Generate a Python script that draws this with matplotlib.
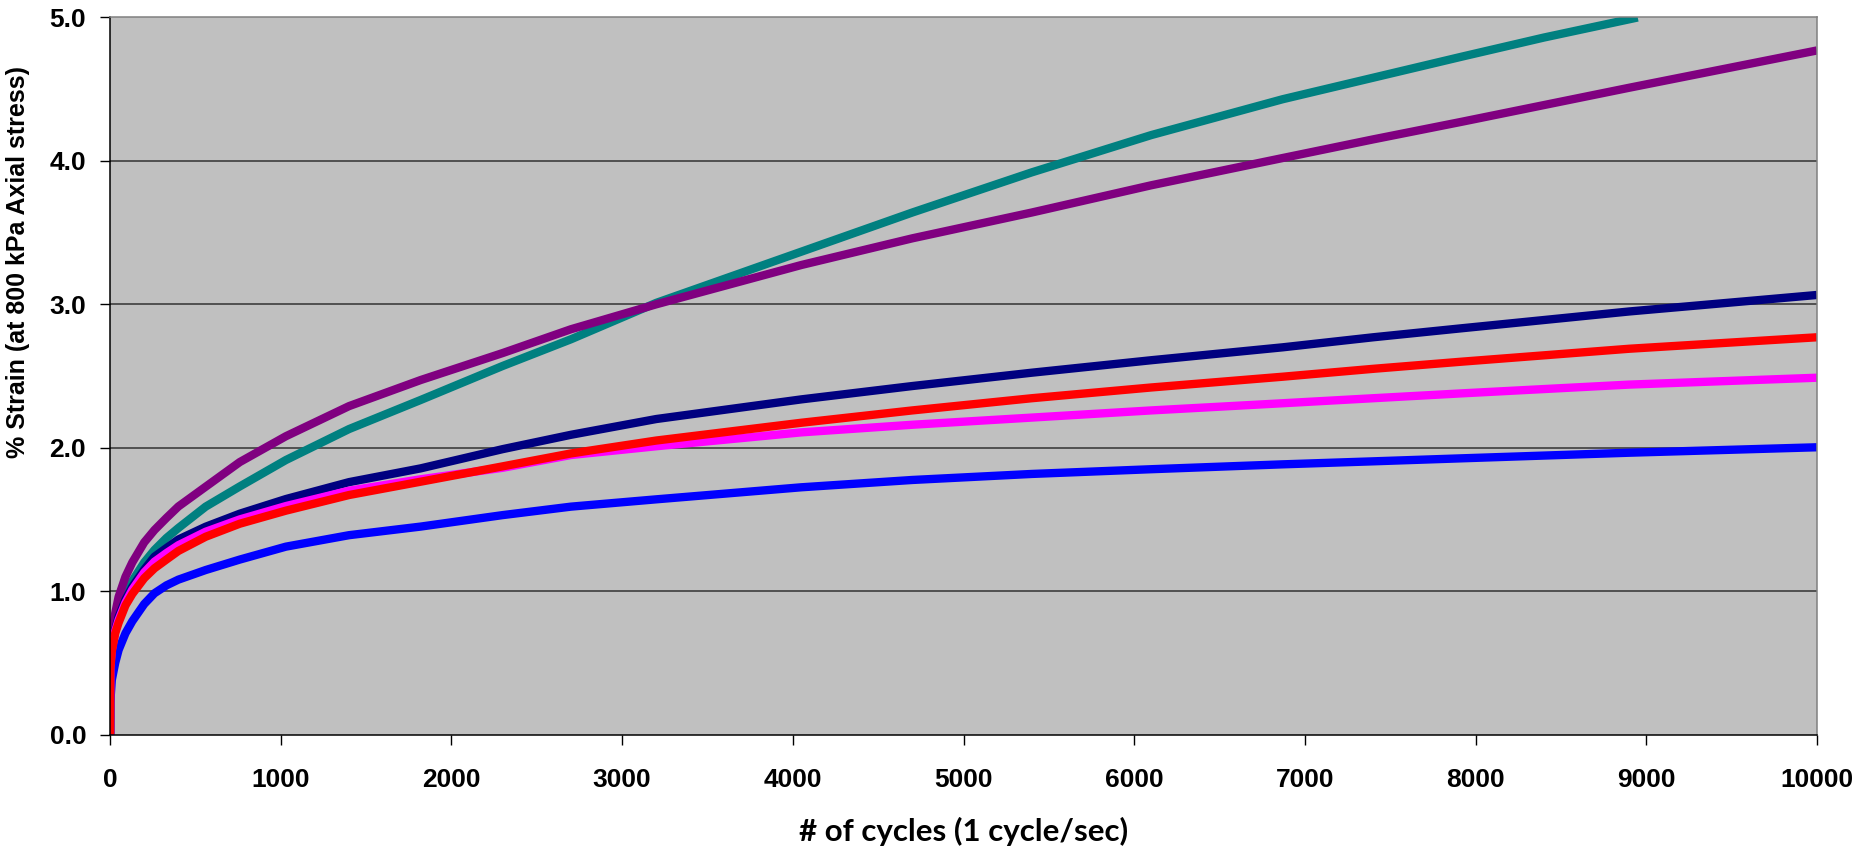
import matplotlib
matplotlib.use('Agg')
import matplotlib.pyplot as plt
from matplotlib import font_manager

cycles = [0, 1, 10, 30, 50, 90, 130, 200, 260, 330, 400, 560, 760, 1030, 1400, 1820,
          2300, 2700, 3200, 4050, 4700, 5400, 6100, 6870, 7400, 7920, 8900, 10000]
cycles_teal = [0, 1, 10, 30, 50, 90, 130, 200, 260, 330, 400, 560, 760, 1030, 1400, 1820,
               2300, 2700, 3200, 4050, 4700, 5400, 6100, 6870, 7400, 7920, 8400, 8950]

strain_teal = [0, 0.50, 0.62, 0.77, 0.86, 0.985, 1.07, 1.20, 1.287, 1.37, 1.44, 1.589,
               1.73, 1.914, 2.13, 2.333, 2.57, 2.756, 3.01, 3.367, 3.64, 3.92, 4.18,
               4.43, 4.58, 4.727, 4.86, 5.0]
strain_purple = [0, 0.59, 0.68, 0.845, 0.96, 1.10, 1.20, 1.34, 1.426, 1.51, 1.59, 1.728,
                 1.90, 2.08, 2.29, 2.472, 2.66, 2.826, 3.00, 3.274, 3.46, 3.64, 3.83,
                 4.02, 4.15, 4.273, 4.51, 4.77]
strain_navy = [0, 0.50, 0.60, 0.73, 0.82, 0.94, 1.03, 1.15, 1.24, 1.30, 1.36, 1.449,
               1.54, 1.642, 1.76, 1.856, 1.99, 2.09, 2.20, 2.337, 2.43, 2.523, 2.61,
               2.70, 2.77, 2.833, 2.95, 3.065]
strain_red = [0, 0.45, 0.58, 0.706, 0.78, 0.90, 0.98, 1.09, 1.159, 1.22, 1.28, 1.379,
              1.47, 1.561, 1.67, 1.763, 1.87, 1.96, 2.05, 2.174, 2.26, 2.345, 2.42,
              2.495, 2.55, 2.60, 2.69, 2.77]
strain_magenta = [0, 0.47, 0.59, 0.72, 0.80, 0.92, 1.01, 1.13, 1.205, 1.265, 1.32, 1.414,
                  1.50, 1.593, 1.70, 1.78, 1.86, 1.949, 2.01, 2.107, 2.16, 2.21, 2.26,
                  2.31, 2.345, 2.379, 2.44, 2.488]
strain_blue = [0, 0.22, 0.38, 0.50, 0.59, 0.706, 0.79, 0.91, 0.985, 1.04, 1.08, 1.147,
               1.22, 1.31, 1.39, 1.45, 1.53, 1.589, 1.64, 1.724, 1.775, 1.817, 1.85,
               1.884, 1.905, 1.926, 1.965, 2.003]

xticks = list(range(0, 10001, 1000))
yticks = [0, 1, 2, 3, 4, 5]

installed = {f.name for f in font_manager.fontManager.ttflist}
narrow = 'Liberation Sans Narrow' if 'Liberation Sans Narrow' in installed else 'Liberation Sans'
ylab_size = 15 if narrow == 'Liberation Sans Narrow' else 18

fig = plt.figure(figsize=(18.66, 8.61), dpi=100)
ax = fig.add_axes([0.0590, 0.1469, 0.9147, 0.8328])
ax.set_facecolor('#C0C0C0')

lw = 6
ax.plot(cycles_teal, strain_teal, color='#008080', lw=lw, solid_capstyle='butt')
ax.plot(cycles, strain_purple, color='#800080', lw=lw, solid_capstyle='butt')
ax.plot(cycles, strain_navy, color='#000080', lw=lw, solid_capstyle='butt')
ax.plot(cycles, strain_blue, color='#0000FF', lw=lw, solid_capstyle='butt')
ax.plot(cycles, strain_magenta, color='#FF00FF', lw=lw, solid_capstyle='butt')
ax.plot(cycles, strain_red, color='#FF0000', lw=lw, solid_capstyle='butt')

ax.set_xlim(0, 10000)
ax.set_ylim(0, 5)
ax.set_xticks(xticks)
ax.set_yticks(yticks)
ax.set_yticklabels([f'{v:.1f}' for v in yticks])

for y in yticks[1:-1]:
    ax.axhline(y, color='#333333', lw=1.1, zorder=1)

for s in ('left', 'bottom'):
    ax.spines[s].set_color('black')
    ax.spines[s].set_linewidth(1.1)
for s in ('top', 'right'):
    ax.spines[s].set_color('#808080')
    ax.spines[s].set_linewidth(1.1)

ax.tick_params(axis='both', direction='out', length=7.2, width=1.0, color='black')
ax.tick_params(axis='x', pad=17)
ax.tick_params(axis='y', pad=10)
for lab in ax.get_xticklabels() + ax.get_yticklabels():
    lab.set_fontfamily('Liberation Sans')
    lab.set_fontweight('bold')
    lab.set_fontsize(19)

ax.set_ylabel('% Strain (at 800 kPa Axial stress)', family=narrow, fontweight='bold',
              fontsize=ylab_size)
ax.yaxis.set_label_coords(-0.047, 0.659)
ax.set_xlabel('# of cycles (1 cycle/sec)', family=['Lato', 'DejaVu Sans'], fontweight='bold',
              fontsize=22.5, labelpad=18)

fig.savefig('out.png', dpi=100)
